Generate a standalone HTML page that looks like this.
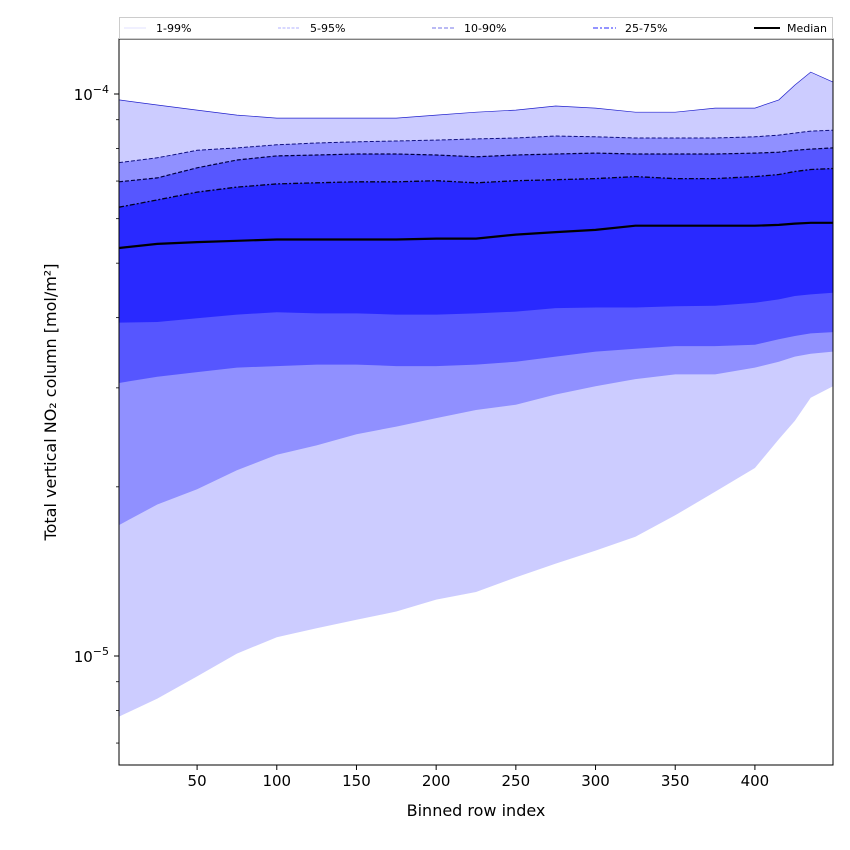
<!DOCTYPE html>
<html><head><meta charset="utf-8"><style>
body{margin:0;background:#fff;}
svg{display:block;font-family:"DejaVu Sans","Liberation Sans",sans-serif;}
</style></head><body>
<svg id="chart" width="850" height="850" xmlns="http://www.w3.org/2000/svg">
<g id="bands"></g>
<g id="lines"></g>
<rect x="119" y="39" width="714" height="726" fill="none" stroke="#000" stroke-width="1"/>
<g id="xaxis"></g>
<g id="yaxis"></g>
<text x="476" y="816" font-size="16" text-anchor="middle">Binned row index</text>
<text transform="translate(56,402) rotate(-90)" font-size="16" text-anchor="middle">Total vertical NO₂ column [mol/m²]</text>
<g>
<rect x="119.5" y="17.5" width="713" height="21" fill="#fff" stroke="#ccc"/>
<g><line x1="124" y1="28" x2="146" y2="28" stroke="#e0e0ff" stroke-width="1"/><text x="156" y="32" font-size="11">1-99%</text></g>
<g><line x1="278" y1="28" x2="300" y2="28" stroke="#b0b0ff" stroke-width="1" stroke-dasharray="3,1.5"/><text x="310" y="32" font-size="11">5-95%</text></g>
<g><line x1="432" y1="28" x2="455" y2="28" stroke="#9090ee" stroke-width="1.3" stroke-dasharray="4,2"/><text x="464" y="32" font-size="11">10-90%</text></g>
<g><line x1="593" y1="28" x2="616" y2="28" stroke="#7070ff" stroke-width="1.6" stroke-dasharray="5,2,2,2"/><text x="625" y="32" font-size="11">25-75%</text></g>
<g><line x1="754" y1="28" x2="780" y2="28" stroke="#000" stroke-width="2"/><text x="787" y="32" font-size="11">Median</text></g>
</g>
</svg>
<script>
const rowIndex=[1,25,50,75,100,125,150,175,200,225,250,275,300,325,350,375,400,415,425,435,449];
const p99=[9.76,9.56,9.36,9.17,9.06,9.06,9.06,9.06,9.17,9.28,9.36,9.52,9.44,9.28,9.28,9.44,9.44,9.76,10.37,10.94,10.5];
const p95=[7.55,7.70,7.94,8.02,8.12,8.18,8.22,8.25,8.28,8.32,8.35,8.42,8.39,8.35,8.35,8.35,8.39,8.45,8.52,8.59,8.62];
const p90=[6.98,7.09,7.39,7.63,7.76,7.79,7.82,7.82,7.79,7.73,7.79,7.82,7.85,7.82,7.82,7.82,7.85,7.88,7.94,7.98,8.02];
const p75=[6.29,6.48,6.69,6.83,6.92,6.95,6.98,6.98,7.01,6.95,7.01,7.04,7.07,7.13,7.07,7.07,7.13,7.19,7.28,7.34,7.37];
const p50=[5.32,5.41,5.45,5.48,5.51,5.51,5.51,5.51,5.53,5.53,5.62,5.68,5.73,5.83,5.83,5.83,5.83,5.85,5.88,5.90,5.90];
const p25=[3.92,3.93,3.99,4.05,4.09,4.07,4.07,4.05,4.05,4.07,4.10,4.16,4.17,4.17,4.19,4.20,4.25,4.31,4.37,4.40,4.43];
const p10=[3.06,3.14,3.20,3.26,3.28,3.30,3.30,3.28,3.28,3.30,3.34,3.41,3.48,3.52,3.56,3.56,3.58,3.66,3.71,3.75,3.77];
const p5=[1.71,1.86,1.98,2.14,2.28,2.37,2.48,2.56,2.65,2.74,2.80,2.92,3.02,3.11,3.17,3.17,3.26,3.34,3.41,3.45,3.48];
const p1=[0.78,0.84,0.92,1.01,1.08,1.12,1.16,1.20,1.26,1.30,1.38,1.46,1.54,1.63,1.78,1.96,2.16,2.43,2.62,2.88,3.02];
const unit=1e-5;
const xTicks=[50,100,150,200,250,300,350,400];
const yMajor=[1e-4,1e-5];
const yMajorLabels=["−4","−5"];
const yMinor=[7e-6,8e-6,9e-6,2e-5,3e-5,4e-5,5e-5,6e-5,7e-5,8e-5,9e-5];

const NS="http://www.w3.org/2000/svg";
const X0=119,X1=833,Y0=39,Y1=765;
function xs(i){return X0+(i-1)*(X1-X0)/(449-1);}
function ys(v){return 94+(-4-Math.log10(v))*562;}
function mk(tag,attrs,parent){const e=document.createElementNS(NS,tag);for(const k in attrs)e.setAttribute(k,attrs[k]);parent.appendChild(e);return e;}
function linePts(arr){return rowIndex.map((r,i)=>xs(r).toFixed(1)+","+ys(arr[i]*unit).toFixed(1));}
function bandPts(up,lo){const a=linePts(up);const b=linePts(lo).reverse();return a.concat(b).join(" ");}
const bands=document.getElementById('bands');
const bandDefs=[[p99,p1,"#ccccff","band-1-99"],[p95,p5,"#9090ff","band-5-95"],[p90,p10,"#5656ff","band-10-90"],[p75,p25,"#2929ff","band-25-75"]];
bandDefs.forEach(d=>{
  const el=mk('polygon',{points:bandPts(d[0],d[1]),fill:d[2]},bands);
  
  
});
const lines=document.getElementById('lines');
const lineDefs=[[p99,"#2020cc",0.7,"","line-p99"],[p95,"#101080",1,"4,2","line-p95"],[p90,"#000040",1.2,"4,2","line-p90"],[p75,"#000020",1.3,"5,2,2,2","line-p75"],[p50,"#000",2.2,"","line-median"]];
lineDefs.forEach(d=>{
  const el=mk('polyline',{points:linePts(d[0]).join(" "),fill:"none",stroke:d[1],"stroke-width":d[2]},lines);
  if(d[3])el.setAttribute('stroke-dasharray',d[3]);
  
  
});
const xa=document.getElementById('xaxis');
xTicks.forEach(t=>{
  const x=xs(t);
  const l=mk('line',{x1:x,y1:Y1,x2:x,y2:Y1+5,stroke:"#000"},xa);
  
  
  const tx=mk('text',{x:x,y:Y1+21,"font-size":15,"text-anchor":"middle"},xa);
  tx.textContent=t;
  
  
});
const ya=document.getElementById('yaxis');
yMajor.forEach((v,i)=>{
  const y=ys(v);
  const l=mk('line',{x1:X0-5,y1:y,x2:X0,y2:y,stroke:"#000"},ya);
  
  
  const tx=mk('text',{x:X0-10,y:y+6,"font-size":15,"text-anchor":"end"},ya);
  
  
  const b=mk('tspan',{},tx);b.textContent="10";
  const s=mk('tspan',{"font-size":11,dy:-7},tx);s.textContent=yMajorLabels[i];
});
yMinor.forEach(v=>{
  const y=ys(v);
  const l=mk('line',{x1:X0-3,y1:y,x2:X0,y2:y,stroke:"#000","stroke-width":0.8},ya);
  
  
});
</script>
</body></html>
